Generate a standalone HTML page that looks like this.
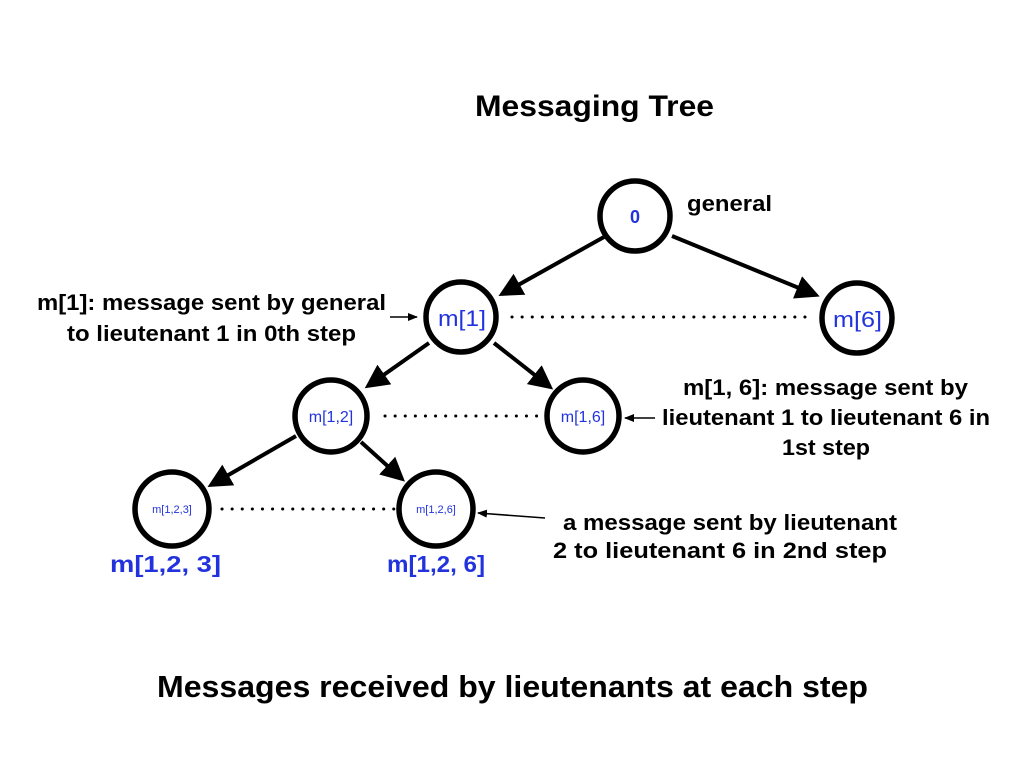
<!DOCTYPE html>
<html><head><style>
body{margin:0;background:#fff;}
svg{display:block;font-family:"Liberation Sans",Arial,sans-serif;}
.t{font-weight:bold;fill:#000;}
.b{fill:#2233dd;}
</style></head><body>
<svg width="1024" height="768" viewBox="0 0 1024 768">
<defs>
<marker id="a" markerWidth="6" markerHeight="6" refX="5" refY="3" orient="auto" markerUnits="strokeWidth">
<path d="M0,0 L6,3 L0,6 z" fill="#000"/></marker>
<marker id="s" markerWidth="10" markerHeight="8" refX="9" refY="4" orient="auto" markerUnits="userSpaceOnUse">
<path d="M0,0 L10,4 L0,8 z" fill="#000"/></marker>
</defs>
<text class="t" x="475" y="116" font-size="30" textLength="239" lengthAdjust="spacingAndGlyphs">Messaging Tree</text>
<text class="t" x="157" y="697" font-size="31" textLength="711" lengthAdjust="spacingAndGlyphs">Messages received by lieutenants at each step</text>

<g stroke="#000" stroke-width="3" stroke-dasharray="0.1,10" stroke-linecap="round">
<line x1="512" y1="317" x2="812" y2="317"/>
<line x1="385" y1="416" x2="545" y2="416"/>
<line x1="222" y1="509" x2="397" y2="509"/>
</g>
<g stroke="#000" stroke-width="4" fill="none">
<line x1="604" y1="237" x2="502" y2="294" marker-end="url(#a)"/>
<line x1="672" y1="236" x2="816" y2="295" marker-end="url(#a)"/>
<line x1="429" y1="343" x2="368" y2="386" marker-end="url(#a)"/>
<line x1="494" y1="343" x2="550" y2="387" marker-end="url(#a)"/>
<line x1="296" y1="436" x2="211" y2="485" marker-end="url(#a)"/>
<line x1="361" y1="442" x2="402" y2="479" marker-end="url(#a)"/>
</g>
<g stroke="#000" stroke-width="1.5">
<line x1="390" y1="317" x2="417" y2="317" marker-end="url(#s)"/>
<line x1="655" y1="418" x2="625" y2="418" marker-end="url(#s)"/>
<line x1="545" y1="518" x2="478" y2="513" marker-end="url(#s)"/>
</g>
<g stroke="#000" stroke-width="5.5" fill="#fff">
<circle cx="635" cy="216" r="35"/>
<circle cx="461" cy="317" r="35"/>
<circle cx="857" cy="318" r="35"/>
<circle cx="331" cy="416" r="36"/>
<circle cx="583" cy="416" r="36"/>
<circle cx="172" cy="509" r="37"/>
<circle cx="436" cy="509" r="37"/>
</g>
<g class="b">
<text x="635" y="223" font-size="18" font-weight="bold" text-anchor="middle">0</text>
<text x="438" y="326" font-size="22" textLength="48" lengthAdjust="spacingAndGlyphs">m[1]</text>
<text x="833" y="327" font-size="22" textLength="49" lengthAdjust="spacingAndGlyphs">m[6]</text>
<text x="331" y="422" font-size="16" text-anchor="middle">m[1,2]</text>
<text x="583" y="422" font-size="16" text-anchor="middle">m[1,6]</text>
<text x="172" y="513" font-size="11" text-anchor="middle">m[1,2,3]</text>
<text x="436" y="513" font-size="11" text-anchor="middle">m[1,2,6]</text>
<text x="110" y="572" font-size="23" font-weight="bold" textLength="111" lengthAdjust="spacingAndGlyphs">m[1,2, 3]</text>
<text x="387" y="572" font-size="23" font-weight="bold" textLength="98" lengthAdjust="spacingAndGlyphs">m[1,2, 6]</text>
</g>
<g class="t" font-size="22">
<text x="687" y="211" textLength="85" lengthAdjust="spacingAndGlyphs">general</text>
<text x="37" y="310" textLength="349" lengthAdjust="spacingAndGlyphs">m[1]: message sent by general</text>
<text x="67" y="341" textLength="289" lengthAdjust="spacingAndGlyphs">to lieutenant 1 in 0th step</text>
<text x="683" y="395" textLength="285" lengthAdjust="spacingAndGlyphs">m[1, 6]: message sent by</text>
<text x="662" y="425" textLength="328" lengthAdjust="spacingAndGlyphs">lieutenant 1 to lieutenant 6 in</text>
<text x="782" y="455" textLength="88" lengthAdjust="spacingAndGlyphs">1st step</text>
<text x="563" y="530" textLength="334" lengthAdjust="spacingAndGlyphs">a message sent by lieutenant</text>
<text x="553" y="558" textLength="334" lengthAdjust="spacingAndGlyphs">2 to lieutenant 6 in 2nd step</text>
</g>
</svg>
</body></html>
